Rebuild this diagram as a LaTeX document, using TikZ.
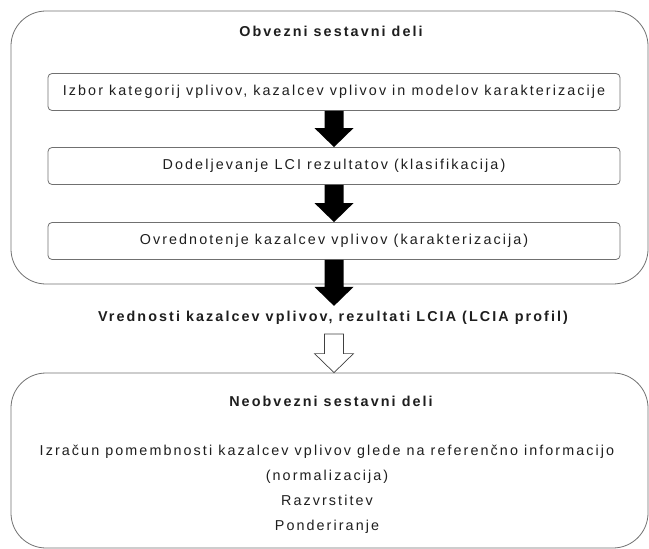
\documentclass[tikz,border=0pt]{standalone}
\usepackage{fontspec}
\setmainfont{Liberation Sans}[LetterSpace=14.5]
\usetikzlibrary{calc}
\definecolor{framegray}{HTML}{707070}
\definecolor{inkgray}{HTML}{1E1E1E}
\tikzset{
  groupbox/.style={
    draw = framegray,
    rounded corners = 35bp,
    minimum width = 637bp,
    inner sep = 0
  },
  stepbox/.style={
    draw = framegray,
    rounded corners = 4bp,
    minimum width = 572bp,
    minimum height = 37bp,
    inner sep = 0,
    text = inkgray,
    font = \fontsize{14.4}{17}\selectfont
  },
  heading/.style={
    inner sep = 0,
    text = inkgray,
    font = \bfseries\fontsize{14.4}{17}\selectfont
  },
  plaintext/.style={
    inner sep = 0,
    align = center,
    text = inkgray,
    font = \fontsize{14.4}{25}\selectfont
  },
  every picture/.style = {
    x = 1bp,
    y = -1bp,
    line width = 0.8bp
  }
}
% fat arrow from #2 down to the tip #3
\newcommand{\fatarrow}[3]{%
  \path[#1] ($(#2)+(-9.5,0)$) -- ($(#3)+(-9.5,-19)$) -- ($(#3)+(-19.5,-19)$)
    -- (#3) -- ($(#3)+(19.5,-19)$) -- ($(#3)+(9.5,-19)$) -- ($(#2)+(9.5,0)$) -- cycle;}
\begin{document}
\begin{tikzpicture}
  \useasboundingbox (0,0) rectangle (649,549);
  % mandatory part
  \node[groupbox, minimum height=273bp] (obv) at (329.5,147.5) {};
  \node[heading] (obvtitle) at (331,31) {Obvezni sestavni deli};
  \node[stepbox] (izbor) at (334,92) {Izbor kategorij vplivov, kazalcev vplivov in modelov karakterizacije};
  \node[stepbox] (dodel) at (334,166) {Dodeljevanje LCI rezultatov (klasifikacija)};
  \node[stepbox] (ovred) at (334,241) {Ovrednotenje kazalcev vplivov (karakterizacija)};
  \node[heading] (profil) at (333,318) {Vrednosti kazalcev vplivov, rezultati LCIA (LCIA profil)};
  % optional part
  \node[groupbox, minimum height=175bp] (neobv) at (329.5,460.5) {};
  \node[heading] (neobvtitle) at (331,401) {Neobvezni sestavni deli};
  \node[plaintext] (opcije) at (327,489.5) {Izračun pomembnosti kazalcev vplivov glede na referenčno informacijo\\(normalizacija)\\Razvrstitev\\Ponderiranje};
  \coordinate (profiltop) at ([yshift=5bp]profil.north -| izbor.south);
  \coordinate (profilbot) at ([yshift=-9bp]profil.south -| izbor.south);
  \fatarrow{fill=black}{izbor.south}{dodel.north}
  \fatarrow{fill=black}{dodel.south}{ovred.north}
  \fatarrow{fill=black}{ovred.south}{profiltop}
  \fatarrow{draw=black!75, fill=white, line width=0.7bp}{profilbot}{neobv.north -| izbor.south}
\end{tikzpicture}
\end{document}
